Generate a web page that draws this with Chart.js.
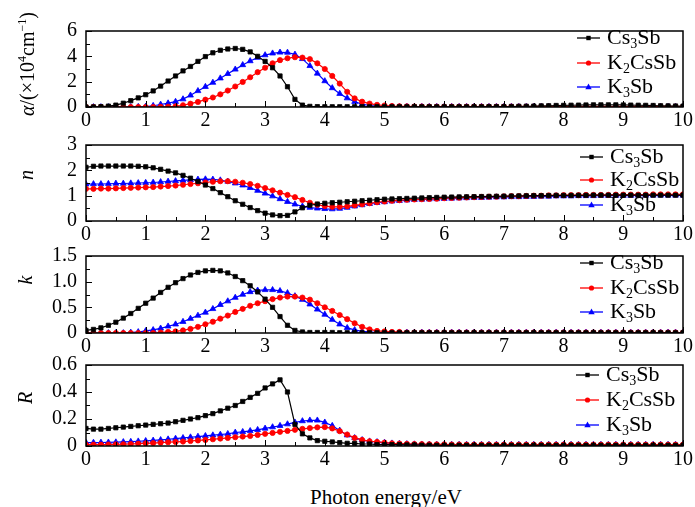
<!DOCTYPE html>
<html>
<head>
<meta charset="utf-8">
<script src="https://cdn.jsdelivr.net/npm/chart.js@4.4.0/dist/chart.umd.min.js"></script>
<style>
    body { margin: 0; background: #fff; width: 695px; height: 507px; position: relative; overflow: hidden; font-family: "Liberation Serif", "Times New Roman", serif; color: #000; }
    canvas { position: absolute; left: 0; }
    .ytitle { position: absolute; transform: translate(-50%, -50%) rotate(-90deg); white-space: nowrap; font-size: 20px; }
    .ytitle i { font-style: italic; }
    #xtitle { position: absolute; left: 386px; top: 497px; transform: translate(-50%, -50%); font-size: 21px; white-space: nowrap; }
</style>
</head>
<body>
<canvas id="c0"></canvas>
<canvas id="c1"></canvas>
<canvas id="c2"></canvas>
<canvas id="c3"></canvas>
<div class="ytitle" style="left:27px;top:64px"><i>α</i>/(×10<sup style="font-size:12px">4</sup>cm<sup style="font-size:12px">−1</sup>)</div>
<div class="ytitle" style="left:26px;top:175px"><i>n</i></div>
<div class="ytitle" style="left:25px;top:280px"><i>k</i></div>
<div class="ytitle" style="left:25px;top:398px"><i>R</i></div>
<div id="xtitle">Photon energy/eV</div>
<script>
// 에너지 축 (0 ~ 10 eV, 0.125 eV 간격)
const energy = Array.from({ length: 81 }, (_, i) => i * 0.125);
const seriesNames = ['Cs_3Sb', 'K_2CsSb', 'K_3Sb'];

// α (×10^4 cm^-1)
const alphaCs3Sb = [
    0, 0.01, 0.03, 0.07, 0.15, 0.3, 0.5, 0.72,
    0.97, 1.27, 1.65, 2.05, 2.45, 2.85, 3.2, 3.6,
    3.98, 4.28, 4.48, 4.58, 4.62, 4.55, 4.35, 4.0,
    3.6, 3.1, 2.45, 1.6, 0.6, 0.15, 0.05, 0.03,
    0.02, 0.02, 0.02, 0.02, 0.02, 0.02, 0.02, 0.02,
    0.02, 0.02, 0.02, 0.02, 0.02, 0.02, 0.02, 0.02,
    0.02, 0.02, 0.02, 0.02, 0.02, 0.02, 0.03, 0.03,
    0.03, 0.04, 0.05, 0.06, 0.07, 0.09, 0.1, 0.12,
    0.13, 0.14, 0.15, 0.16, 0.17, 0.17, 0.17, 0.17,
    0.16, 0.15, 0.14, 0.13, 0.12, 0.1, 0.09, 0.08,
    0.07
];
const alphaK2CsSb = [
    0, 0, 0, 0, 0, 0, 0, 0,
    0, 0, 0.01, 0.02, 0.06, 0.14, 0.26, 0.4,
    0.58, 0.75, 1.0, 1.3, 1.62, 1.98, 2.35, 2.75,
    3.1, 3.45, 3.7, 3.85, 3.93, 3.9, 3.78, 3.45,
    3.0, 2.45, 1.85, 1.2, 0.68, 0.42, 0.27, 0.17,
    0.12, 0.08, 0.06, 0.05, 0.04, 0.04, 0.03, 0.03,
    0.03, 0.03, 0.03, 0.03, 0.03, 0.03, 0.03, 0.03,
    0.03, 0.03, 0.03, 0.03, 0.03, 0.03, 0.03, 0.03,
    0.03, 0.03, 0.03, 0.03, 0.03, 0.03, 0.03, 0.03,
    0.03, 0.03, 0.03, 0.03, 0.03, 0.03, 0.03, 0.03,
    0.03
];
const alphaK3Sb = [
    0, 0, 0, 0, 0, 0, 0.01, 0.02,
    0.04, 0.1, 0.2, 0.3, 0.42, 0.62, 0.92, 1.27,
    1.6, 1.93, 2.27, 2.62, 2.97, 3.32, 3.63, 3.9,
    4.1, 4.24, 4.31, 4.3, 4.15, 3.8, 3.25, 2.65,
    2.05, 1.5, 1.05, 0.7, 0.42, 0.22, 0.12, 0.07,
    0.05, 0.04, 0.03, 0.03, 0.02, 0.02, 0.02, 0.02,
    0.02, 0.02, 0.02, 0.02, 0.02, 0.02, 0.02, 0.02,
    0.02, 0.02, 0.02, 0.02, 0.02, 0.02, 0.02, 0.02,
    0.02, 0.02, 0.02, 0.02, 0.02, 0.02, 0.02, 0.02,
    0.02, 0.02, 0.02, 0.02, 0.02, 0.02, 0.02, 0.02,
    0.02
];

// n
const nCs3Sb = [
    2.12, 2.16, 2.17, 2.17, 2.17, 2.17, 2.17, 2.16,
    2.14, 2.1, 2.04, 1.97, 1.9, 1.8, 1.69, 1.56,
    1.42, 1.28, 1.12, 0.96, 0.8, 0.66, 0.53, 0.41,
    0.31, 0.24, 0.21, 0.22, 0.36, 0.52, 0.62, 0.67,
    0.7, 0.72, 0.74, 0.76, 0.78, 0.8, 0.82, 0.84,
    0.86, 0.87, 0.88, 0.89, 0.9, 0.91, 0.92, 0.93,
    0.94, 0.945, 0.95, 0.955, 0.96, 0.965, 0.97, 0.975,
    0.98, 0.985, 0.99, 0.995, 1.0, 1.0, 1.005, 1.01,
    1.01, 1.01, 1.015, 1.015, 1.02, 1.02, 1.02, 1.02,
    1.02, 1.02, 1.02, 1.02, 1.02, 1.02, 1.02, 1.02,
    1.02
];
const nK2CsSb = [
    1.27, 1.27, 1.28, 1.28, 1.29, 1.3, 1.31, 1.32,
    1.33, 1.34, 1.36, 1.38, 1.4, 1.43, 1.46, 1.49,
    1.52, 1.55, 1.57, 1.57, 1.55, 1.51, 1.46, 1.39,
    1.3, 1.21, 1.12, 1.03, 0.94, 0.83, 0.72, 0.64,
    0.59, 0.56, 0.56, 0.58, 0.62, 0.66, 0.7, 0.74,
    0.77, 0.8, 0.82, 0.84, 0.85, 0.86, 0.87, 0.88,
    0.9, 0.91, 0.92, 0.93, 0.94, 0.95, 0.96, 0.96,
    0.97, 0.98, 0.98, 0.99, 1.0, 1.0, 1.01, 1.01,
    1.02, 1.02, 1.02, 1.03, 1.03, 1.03, 1.03, 1.04,
    1.04, 1.04, 1.04, 1.04, 1.05, 1.05, 1.05, 1.05,
    1.05
];
const nK3Sb = [
    1.45, 1.46, 1.46, 1.47, 1.48, 1.48, 1.49, 1.5,
    1.51, 1.52, 1.54, 1.56, 1.58, 1.6, 1.62, 1.64,
    1.65, 1.64, 1.61, 1.56, 1.49, 1.41, 1.31, 1.2,
    1.09, 0.98, 0.87, 0.76, 0.66, 0.58, 0.53, 0.5,
    0.48, 0.47, 0.49, 0.53, 0.58, 0.63, 0.68, 0.72,
    0.75, 0.78, 0.8, 0.82, 0.84, 0.85, 0.86, 0.87,
    0.88, 0.89, 0.9, 0.91, 0.92, 0.92, 0.93, 0.94,
    0.94, 0.95, 0.95, 0.96, 0.96, 0.97, 0.97, 0.98,
    0.98, 0.98, 0.99, 0.99, 0.99, 1.0, 1.0, 1.0,
    1.0, 1.0, 1.01, 1.01, 1.01, 1.01, 1.01, 1.01,
    1.01
];

// k
const kCs3Sb = [
    0.05, 0.07, 0.1, 0.15, 0.21, 0.29, 0.38, 0.48,
    0.58, 0.68, 0.79, 0.89, 0.98, 1.06, 1.13, 1.18,
    1.21, 1.22, 1.21, 1.17, 1.1, 1.02, 0.92, 0.8,
    0.66, 0.5, 0.32, 0.15, 0.05, 0.02, 0.01, 0.01,
    0.01, 0.01, 0.005, 0.005, 0.005, 0.005, 0.005, 0.005,
    0.005, 0.005, 0.005, 0.005, 0.005, 0.005, 0.005, 0.005,
    0.005, 0.005, 0.005, 0.005, 0.005, 0.005, 0.005, 0.005,
    0.005, 0.005, 0.005, 0.005, 0.005, 0.005, 0.005, 0.005,
    0.005, 0.005, 0.005, 0.005, 0.005, 0.005, 0.005, 0.005,
    0.005, 0.005, 0.005, 0.005, 0.005, 0.005, 0.005, 0.005,
    0.005
];
const kK2CsSb = [
    0, 0, 0, 0, 0, 0, 0, 0,
    0, 0, 0.01, 0.02, 0.03, 0.05, 0.08, 0.12,
    0.17, 0.22, 0.28, 0.34, 0.41, 0.47, 0.53, 0.58,
    0.62, 0.66, 0.69, 0.71, 0.71, 0.69, 0.65, 0.58,
    0.5, 0.43, 0.35, 0.27, 0.19, 0.12, 0.07, 0.04,
    0.03, 0.02, 0.02, 0.01, 0.01, 0.01, 0.01, 0.01,
    0.01, 0.01, 0.01, 0.01, 0.01, 0.01, 0.01, 0.01,
    0.01, 0.01, 0.01, 0.01, 0.01, 0.01, 0.01, 0.01,
    0.01, 0.01, 0.01, 0.01, 0.01, 0.01, 0.01, 0.01,
    0.01, 0.01, 0.01, 0.01, 0.01, 0.01, 0.01, 0.01,
    0.01
];
const kK3Sb = [
    0, 0, 0, 0, 0, 0, 0.01, 0.02,
    0.04, 0.06, 0.09, 0.13, 0.17, 0.22, 0.28, 0.34,
    0.4, 0.47, 0.55, 0.62, 0.69, 0.75, 0.8, 0.83,
    0.84, 0.84, 0.82, 0.78, 0.72, 0.65, 0.56, 0.46,
    0.36, 0.26, 0.17, 0.1, 0.06, 0.03, 0.02, 0.01,
    0.01, 0.01, 0.01, 0.01, 0.01, 0.01, 0.01, 0.01,
    0.01, 0.01, 0.01, 0.01, 0.01, 0.01, 0.01, 0.01,
    0.01, 0.01, 0.01, 0.01, 0.01, 0.01, 0.01, 0.01,
    0.01, 0.01, 0.01, 0.01, 0.01, 0.01, 0.01, 0.01,
    0.01, 0.01, 0.01, 0.01, 0.01, 0.01, 0.01, 0.01,
    0.01
];

// R
const rCs3Sb = [
    0.13, 0.125, 0.125, 0.13, 0.135, 0.14, 0.145, 0.15,
    0.155, 0.16, 0.165, 0.17, 0.18, 0.19, 0.2, 0.21,
    0.225, 0.24, 0.26, 0.28, 0.3, 0.33, 0.36, 0.39,
    0.43, 0.46, 0.49, 0.4, 0.16, 0.09, 0.06, 0.04,
    0.035, 0.03, 0.025, 0.02, 0.02, 0.015, 0.015, 0.01,
    0.01, 0.01, 0.01, 0.008, 0.008, 0.006, 0.006, 0.005,
    0.005, 0.005, 0.005, 0.005, 0.005, 0.005, 0.005, 0.005,
    0.005, 0.005, 0.005, 0.005, 0.005, 0.005, 0.005, 0.005,
    0.005, 0.005, 0.005, 0.005, 0.005, 0.005, 0.005, 0.005,
    0.005, 0.005, 0.005, 0.005, 0.005, 0.005, 0.005, 0.005,
    0.005
];
const rK2CsSb = [
    0.01, 0.01, 0.01, 0.011, 0.012, 0.013, 0.015, 0.017,
    0.02, 0.022, 0.025, 0.028, 0.03, 0.033, 0.037, 0.041,
    0.045, 0.05, 0.055, 0.06, 0.065, 0.07, 0.075, 0.082,
    0.09, 0.097, 0.105, 0.112, 0.12, 0.127, 0.133, 0.138,
    0.14, 0.13, 0.11, 0.085, 0.06, 0.045, 0.035, 0.03,
    0.025, 0.02, 0.018, 0.016, 0.015, 0.014, 0.013, 0.012,
    0.012, 0.011, 0.011, 0.01, 0.01, 0.01, 0.01, 0.01,
    0.01, 0.01, 0.01, 0.01, 0.01, 0.01, 0.01, 0.01,
    0.01, 0.01, 0.01, 0.01, 0.01, 0.01, 0.01, 0.01,
    0.01, 0.01, 0.01, 0.01, 0.01, 0.01, 0.01, 0.01,
    0.01
];
const rK3Sb = [
    0.025, 0.025, 0.026, 0.027, 0.028, 0.03, 0.032, 0.035,
    0.038, 0.041, 0.045, 0.05, 0.055, 0.06, 0.065, 0.07,
    0.075, 0.08, 0.085, 0.09, 0.1, 0.105, 0.112, 0.12,
    0.13, 0.14, 0.15, 0.162, 0.175, 0.185, 0.19, 0.19,
    0.175, 0.15, 0.115, 0.08, 0.06, 0.045, 0.035, 0.03,
    0.025, 0.02, 0.018, 0.015, 0.013, 0.012, 0.011, 0.01,
    0.01, 0.01, 0.01, 0.01, 0.01, 0.01, 0.01, 0.01,
    0.01, 0.01, 0.01, 0.01, 0.01, 0.01, 0.01, 0.01,
    0.01, 0.01, 0.01, 0.01, 0.01, 0.01, 0.01, 0.01,
    0.01, 0.01, 0.01, 0.01, 0.01, 0.01, 0.01, 0.01,
    0.01
];

const FONT = '"Liberation Serif", "Times New Roman", serif';
const colors = ['#000000', '#ff0000', '#0000ff'];
const pointStyles = ['rect', 'circle', 'triangle'];
const pointRadii = [3, 2.6, 3.4];

const PAD_TOP = 14;
const X_AXIS_H = 26;

const panels = [
    { top: 24, bottom: 107, max: 6, step: 2, minor: 1, fmt: v => String(Math.round(v)),
      data: [alphaCs3Sb, alphaK2CsSb, alphaK3Sb], legend: { x: 577, ys: [38, 63, 87] } },
    { top: 138, bottom: 221, max: 3, step: 1, minor: 0.5, fmt: v => String(Math.round(v)),
      data: [nCs3Sb, nK2CsSb, nK3Sb], legend: { x: 580, ys: [157, 180, 205] } },
    { top: 249, bottom: 333, max: 1.5, step: 0.5, minor: 0.25, fmt: v => v === 0 ? '0' : v.toFixed(1),
      data: [kCs3Sb, kK2CsSb, kK3Sb], legend: { x: 580, ys: [263, 288, 312] } },
    { top: 358, bottom: 446, max: 0.6, step: 0.2, minor: 0.1, fmt: v => Math.abs(v) < 1e-9 ? '0' : v.toFixed(1),
      data: [rCs3Sb, rK2CsSb, rK3Sb], legend: { x: 576, ys: [375, 400, 425] } }
];

// 프레임 + 안쪽으로 향한 눈금
const framePlugin = {
    id: 'frameTicks',
    afterDraw(chart) {
        const { ctx, chartArea: a, scales } = chart;
        const p = chart.options.plugins.frameTicks;
        ctx.save();
        ctx.strokeStyle = '#000';
        ctx.lineWidth = 1.5;
        ctx.strokeRect(a.left, a.top, a.right - a.left, a.bottom - a.top);
        ctx.lineWidth = 1;
        ctx.beginPath();
        for (let v = 0; v <= 10.001; v += 0.5) {
            const x = Math.round(scales.x.getPixelForValue(v)) + 0.5;
            const len = Math.abs(v - Math.round(v)) < 1e-6 ? 6 : 4;
            ctx.moveTo(x, a.bottom);
            ctx.lineTo(x, a.bottom - len);
        }
        const n = Math.round(p.max / p.minor);
        for (let i = 0; i <= n; i++) {
            const v = i * p.minor;
            const y = Math.round(scales.y.getPixelForValue(v)) + 0.5;
            const major = i % Math.round(p.step / p.minor) === 0;
            ctx.moveTo(a.left, y);
            ctx.lineTo(a.left + (major ? 6 : 4), y);
        }
        ctx.stroke();
        ctx.restore();
    }
};

// 그림 안쪽 범례 (아래첨자 포함)
const legendPlugin = {
    id: 'innerLegend',
    afterDraw(chart) {
        const { ctx } = chart;
        const p = chart.options.plugins.innerLegend;
        ctx.save();
        chart.data.datasets.forEach((ds, i) => {
            const y = p.ys[i] - p.offset;
            const x0 = p.x, x1 = p.x + 23;
            ctx.strokeStyle = ds.borderColor;
            ctx.fillStyle = ds.borderColor;
            ctx.lineWidth = 1.3;
            ctx.beginPath();
            ctx.moveTo(x0, y);
            ctx.lineTo(x1, y);
            ctx.stroke();
            const cx = (x0 + x1) / 2;
            ctx.beginPath();
            if (ds.pointStyle === 'rect') {
                ctx.rect(cx - 2.2, y - 2.2, 4.4, 4.4);
            } else if (ds.pointStyle === 'circle') {
                ctx.arc(cx, y, 2.6, 0, Math.PI * 2);
            } else {
                ctx.moveTo(cx, y - 3.4);
                ctx.lineTo(cx + 3.2, y + 2.2);
                ctx.lineTo(cx - 3.2, y + 2.2);
                ctx.closePath();
            }
            ctx.fill();

            ctx.fillStyle = '#000';
            ctx.textBaseline = 'middle';
            let tx = x1 + 7;
            const parts = ds.label.split(/_(\d)/);
            parts.forEach((part, k) => {
                if (!part) return;
                const sub = k % 2 === 1;
                ctx.font = (sub ? '14px ' : '22px ') + FONT;
                ctx.fillText(part, tx, sub ? y + 6 : y);
                tx += ctx.measureText(part).width;
            });
        });
        ctx.restore();
    }
};

panels.forEach((p, idx) => {
    const cv = document.getElementById('c' + idx);
    const canvasTop = p.top - PAD_TOP;
    const h = PAD_TOP + (p.bottom - p.top) + X_AXIS_H;
    cv.width = 695;
    cv.height = h;
    cv.style.top = canvasTop + 'px';

    new Chart(cv, {
        type: 'line',
        data: {
            datasets: p.data.map((vals, i) => ({
                label: seriesNames[i],
                data: energy.map((x, j) => ({ x: x, y: vals[j] })),
                borderColor: colors[i],
                backgroundColor: colors[i],
                borderWidth: 1.2,
                pointStyle: pointStyles[i],
                pointRadius: pointRadii[i],
                pointBorderWidth: 0.8,
                pointBorderColor: colors[i],
                pointBackgroundColor: colors[i],
                tension: 0,
                fill: false
            }))
        },
        options: {
            responsive: false,
            animation: false,
            devicePixelRatio: 1,
            layout: { padding: { top: PAD_TOP, right: 12, left: 0, bottom: 0 } },
            plugins: {
                legend: { display: false },
                tooltip: { enabled: false },
                frameTicks: { max: p.max, step: p.step, minor: p.minor },
                innerLegend: { x: p.legend.x, ys: p.legend.ys, offset: canvasTop }
            },
            scales: {
                x: {
                    type: 'linear', min: 0, max: 10,
                    grid: { display: false, drawTicks: false },
                    border: { display: false },
                    ticks: { stepSize: 1, padding: 2, color: '#000', maxRotation: 0, autoSkip: false,
                             font: { family: FONT, size: 20 } },
                    afterFit(scale) { scale.height = X_AXIS_H; }
                },
                y: {
                    min: 0, max: p.max,
                    grid: { display: false, drawTicks: false },
                    border: { display: false },
                    ticks: { stepSize: p.step, padding: 9, color: '#000', autoSkip: false,
                             font: { family: FONT, size: 20 },
                             callback: p.fmt },
                    afterFit(scale) { scale.width = 86; }
                }
            }
        },
        plugins: [framePlugin, legendPlugin]
    });
});
</script>
</body>
</html>
